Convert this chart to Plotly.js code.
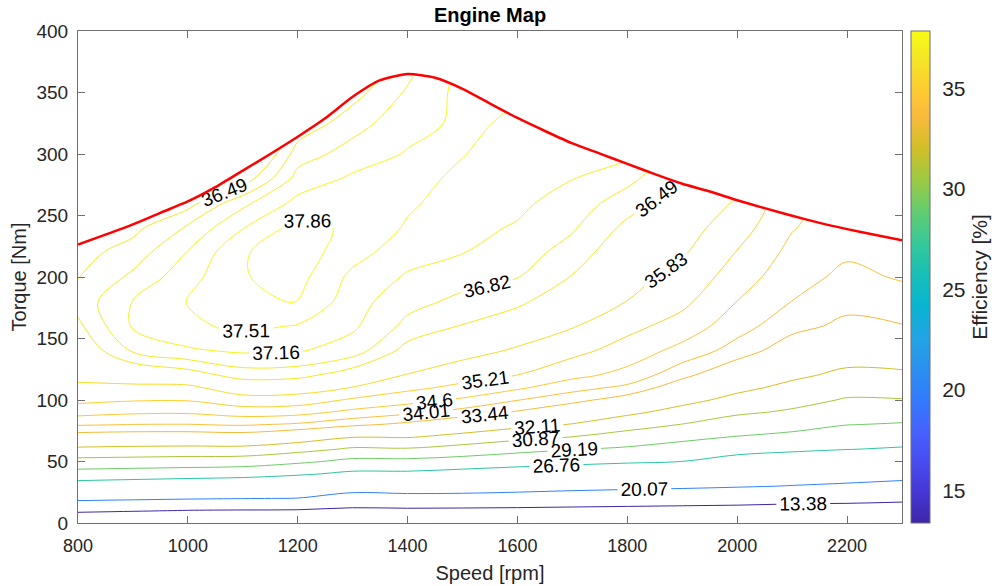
<!DOCTYPE html>
<html>
<head>
<meta charset="utf-8">
<script src="https://cdn.plot.ly/plotly-3.0.1.min.js"></script>
<style>
html,body{margin:0;padding:0;background:#ffffff;}
#chart{width:1003px;height:586px;}
</style>
</head>
<body>
<div id="chart"></div>
<script>
// ---- data ----
const speed  = [800, 900, 1000, 1100, 1200, 1300, 1400, 1500, 1600, 1700, 1800, 1900, 2000, 2100, 2200, 2300];
const torque = [0, 10, 20, 30, 40, 50, 60, 70, 80, 90, 100, 110, 120, 140, 160, 180, 200, 220, 240, 260, 280, 300, 325, 350, 375];

// efficiency [%] per speed column, one value per torque row
const eff800  = [6.40, 14.43, 21.30, 25.41, 28.44, 30.43, 31.91, 33.10, 34.07, 34.82, 35.37, 35.75, 35.93, 36.17, 36.41, 36.62, 36.48, 36.36, 36.20, 36.05, 35.90, 35.75, 35.60, 35.45, 35.30];
const eff900  = [5.90, 13.77, 20.90, 25.03, 28.27, 30.34, 31.83, 33.04, 34.00, 34.69, 35.26, 35.71, 36.11, 36.86, 37.20, 37.17, 36.89, 36.64, 36.39, 36.20, 36.00, 35.85, 35.70, 35.55, 35.40];
const eff1000 = [5.46, 13.15, 20.48, 24.61, 28.09, 30.24, 31.78, 33.04, 33.99, 34.67, 35.25, 35.70, 36.29, 37.11, 37.43, 37.53, 37.38, 37.18, 36.87, 36.36, 35.95, 35.60, 35.30, 35.00, 34.70];
const eff1100 = [5.59, 12.94, 20.19, 24.30, 27.84, 30.17, 31.78, 33.09, 34.07, 34.87, 35.59, 36.17, 36.64, 37.21, 37.60, 37.74, 37.84, 37.83, 37.49, 37.07, 36.28, 35.70, 35.20, 34.80, 34.40];
const eff1200 = [5.78, 12.82, 19.96, 23.66, 27.16, 29.55, 31.35, 32.76, 33.92, 34.80, 35.55, 36.13, 36.60, 37.19, 37.48, 37.88, 37.98, 38.05, 38.00, 37.62, 37.29, 36.99, 36.56, 36.20, 35.80];
const eff1300 = [5.90, 11.93, 17.96, 22.50, 26.24, 28.73, 30.68, 32.17, 33.58, 34.44, 35.12, 35.81, 36.27, 36.99, 37.22, 37.30, 37.42, 37.65, 37.78, 37.70, 37.57, 37.31, 37.02, 36.68, 36.30];
const eff1400 = [5.88, 12.13, 18.38, 22.67, 26.23, 28.73, 30.75, 32.19, 33.28, 34.15, 34.83, 35.36, 35.79, 36.35, 36.72, 36.94, 37.12, 37.30, 37.47, 37.56, 37.59, 37.54, 37.38, 37.21, 37.00];
const eff1500 = [5.61, 11.98, 18.35, 22.48, 25.77, 28.38, 30.34, 31.78, 32.88, 33.78, 34.51, 35.05, 35.47, 36.05, 36.47, 36.73, 36.96, 37.17, 37.25, 37.36, 37.46, 37.52, 37.58, 37.62, 37.60];
const eff1600 = [5.78, 11.86, 17.94, 22.14, 25.33, 27.87, 29.78, 31.30, 32.44, 33.37, 34.03, 34.70, 35.20, 35.75, 36.20, 36.58, 36.83, 36.98, 37.13, 37.23, 37.31, 37.39, 37.45, 37.55, 37.60];
const eff1700 = [6.07, 11.69, 17.31, 21.69, 24.86, 27.48, 29.27, 30.86, 32.05, 32.90, 33.63, 34.22, 34.76, 35.39, 35.87, 36.17, 36.47, 36.68, 36.86, 37.01, 37.17, 37.30, 37.42, 37.50, 37.55];
const eff1800 = [6.16, 11.51, 16.86, 21.29, 24.33, 27.12, 28.92, 30.29, 31.42, 32.34, 33.13, 33.87, 34.40, 34.95, 35.39, 35.82, 36.02, 36.21, 36.40, 36.64, 36.92, 37.24, 37.35, 37.45, 37.50];
const eff1900 = [6.17, 11.32, 16.47, 20.94, 23.85, 26.75, 28.33, 29.70, 30.83, 31.71, 32.44, 33.03, 33.60, 34.40, 34.96, 35.36, 35.65, 35.91, 36.10, 36.30, 36.47, 36.65, 36.85, 37.00, 37.10];
const eff2000 = [6.45, 11.23, 16.01, 20.46, 23.09, 25.71, 27.64, 29.12, 30.16, 31.08, 31.79, 32.37, 32.85, 33.76, 34.25, 34.59, 34.91, 35.18, 35.49, 35.76, 36.00, 36.20, 36.40, 36.55, 36.70];
const eff2100 = [6.37, 10.89, 15.41, 19.93, 22.52, 25.04, 27.24, 28.74, 29.81, 30.69, 31.30, 31.84, 32.30, 33.06, 33.63, 34.00, 34.22, 34.43, 34.64, 34.80, 34.95, 35.10, 35.30, 35.45, 35.60];
const eff2200 = [6.47, 10.79, 15.11, 19.42, 22.10, 24.49, 26.82, 28.04, 29.23, 29.99, 30.76, 31.33, 31.87, 32.63, 33.29, 33.63, 33.88, 34.09, 34.20, 34.30, 34.40, 34.45, 34.50, 34.55, 34.58];
const eff2300 = [6.40, 10.51, 14.61, 18.72, 21.69, 24.10, 26.52, 27.84, 29.05, 29.95, 30.81, 31.38, 31.93, 32.70, 33.41, 33.78, 34.06, 34.20, 34.28, 34.35, 34.40, 34.45, 34.50, 34.52, 34.55];

// contour levels shown in the map
const levels = [13.38, 20.07, 26.76, 29.19, 30.87, 32.11, 33.44, 34.01, 34.6, 35.21, 35.83, 36.49, 36.82, 37.16, 37.51, 37.86];

// full-load (maximum torque) curve
const wotSpeed  = [800, 850, 900, 950, 1000, 1050, 1100, 1150, 1200, 1250, 1300, 1350, 1400, 1450, 1500, 1550, 1600, 1650, 1700, 1750, 1800, 1850, 1900, 1950, 2000, 2050, 2100, 2150, 2200, 2250, 2300];
const wotTorque = [226.3, 234.4, 242.8, 252.2, 261.4, 273.0, 286.5, 300.0, 314.0, 329.0, 346.5, 360.0, 365.0, 362.0, 353.0, 341.0, 329.3, 318.7, 308.6, 300.3, 292.0, 283.6, 275.8, 269.5, 262.4, 256.0, 249.8, 244.0, 238.9, 234.3, 229.8];

const colorbarTicks = [15, 20, 25, 30, 35];
const xRange = [800, 2300];
const yRange = [0, 400];
const effMin = 13.38, effMax = 37.86;

// ---- build grid ----
const effColumns = [eff800, eff900, eff1000, eff1100, eff1200, eff1300, eff1400, eff1500,
                    eff1600, eff1700, eff1800, eff1900, eff2000, eff2100, eff2200, eff2300];
const z = torque.map((t, i) => effColumns.map(col => col[i]));

// MATLAB parula (classic)
const parulaStops = [
  [0.000, [62, 38, 168]], [0.063, [69, 55, 213]], [0.127, [72, 77, 240]], [0.190, [69, 99, 253]],
  [0.254, [50, 124, 252]], [0.317, [43, 145, 239]], [0.381, [32, 165, 227]], [0.444, [8, 181, 208]],
  [0.508, [25, 191, 182]], [0.571, [55, 200, 151]], [0.635, [100, 205, 111]], [0.698, [157, 201, 67]],
  [0.762, [209, 191, 39]], [0.825, [248, 186, 61]], [0.857, [254, 195, 56]], [0.889, [252, 207, 48]],
  [0.952, [245, 233, 36]], [1.000, [249, 251, 21]]
];
const colorscale = parulaStops.map(s => [s[0], 'rgb(' + s[1].join(',') + ')']);
function colorAt(v) {
  const t = Math.max(0, Math.min(1, (v - effMin) / (effMax - effMin)));
  for (let i = 1; i < parulaStops.length; i++) {
    if (t <= parulaStops[i][0]) {
      const a = parulaStops[i - 1], b = parulaStops[i];
      const f = (t - a[0]) / (b[0] - a[0]);
      const c = a[1].map((ca, k) => Math.round(ca + f * (b[1][k] - ca)));
      return 'rgb(' + c.join(',') + ')';
    }
  }
  return 'rgb(' + parulaStops[parulaStops.length - 1][1].join(',') + ')';
}

const FONT = 'Liberation Sans, Arial, Helvetica, sans-serif';
const TXT = '#262626';
const AXL = '#707070';

const traces = levels.map(L => ({
  type: 'contour',
  x: speed, y: torque, z: z,
  autocontour: false,
  contours: {
    start: L, end: L, size: 1,
    coloring: 'none',
    showlabels: true,
    labelfont: {family: FONT, size: 19, color: '#000000'}
  },
  line: {color: colorAt(L), width: 1, smoothing: 1},
  showscale: false,
  hoverinfo: 'skip'
}));

// invisible layer carrying the colour bar
traces.push({
  type: 'heatmap', x: speed, y: torque, z: z,
  zmin: effMin, zmax: effMax, colorscale: colorscale,
  opacity: 0, hoverinfo: 'skip', showscale: true,
  colorbar: {
    x: 1.0105, xanchor: 'left', xpad: 0,
    y: 0.5, yanchor: 'middle', ypad: 0,
    len: 1, lenmode: 'fraction', thickness: 19,
    outlinewidth: 1, outlinecolor: AXL,
    ticks: 'outside', ticklen: 8, tickcolor: 'rgba(0,0,0,0)', tickwidth: 1,
    tickvals: colorbarTicks,
    tickfont: {family: FONT, size: 21, color: TXT},
    title: {text: 'Efficiency [%]', side: 'right', font: {family: FONT, size: 21, color: TXT}}
  }
});

// white area above the full-load curve
traces.push({
  type: 'scatter', mode: 'lines',
  x: wotSpeed.concat([xRange[1], xRange[0]]),
  y: wotTorque.concat([yRange[1], yRange[1]]),
  fill: 'toself', fillcolor: '#ffffff',
  line: {width: 0, color: '#ffffff'},
  hoverinfo: 'skip'
});

// full-load curve
traces.push({
  type: 'scatter', mode: 'lines',
  x: wotSpeed, y: wotTorque,
  line: {color: 'rgb(255,0,0)', width: 2.5, shape: 'spline', smoothing: 0.6},
  hoverinfo: 'skip'
});

const layout = {
  width: 1003, height: 586,
  margin: {l: 78, r: 99, t: 31, b: 63, pad: 0},
  paper_bgcolor: '#ffffff', plot_bgcolor: '#ffffff',
  showlegend: false,
  font: {family: FONT, color: TXT},
  title: {
    text: '<b>Engine Map</b>',
    font: {family: FONT, size: 20, color: '#000000'},
    x: 0.5, xref: 'paper', xanchor: 'center',
    y: 1 - 15 / 586, yref: 'container', yanchor: 'middle'
  },
  xaxis: {
    range: xRange, tick0: 800, dtick: 200,
    ticks: 'inside', ticklen: 7, tickwidth: 1, tickcolor: AXL,
    showline: true, linecolor: AXL, linewidth: 1, mirror: 'ticks',
    showgrid: false, zeroline: false,
    tickfont: {family: FONT, size: 18, color: TXT},
    ticklabelstandoff: 6,
    title: {text: 'Speed [rpm]', font: {family: FONT, size: 20, color: TXT}, standoff: 11}
  },
  yaxis: {
    range: yRange, tick0: 0, dtick: 50,
    ticks: 'inside', ticklen: 7, tickwidth: 1, tickcolor: AXL,
    showline: true, linecolor: AXL, linewidth: 1, mirror: 'ticks',
    showgrid: false, zeroline: false,
    tickfont: {family: FONT, size: 19, color: TXT},
    ticklabelstandoff: 5,
    title: {text: 'Torque [Nm]', font: {family: FONT, size: 20, color: TXT}, standoff: 4}
  }
};

Plotly.newPlot('chart', traces, layout, {displayModeBar: false, staticPlot: true});
</script>
</body>
</html>
